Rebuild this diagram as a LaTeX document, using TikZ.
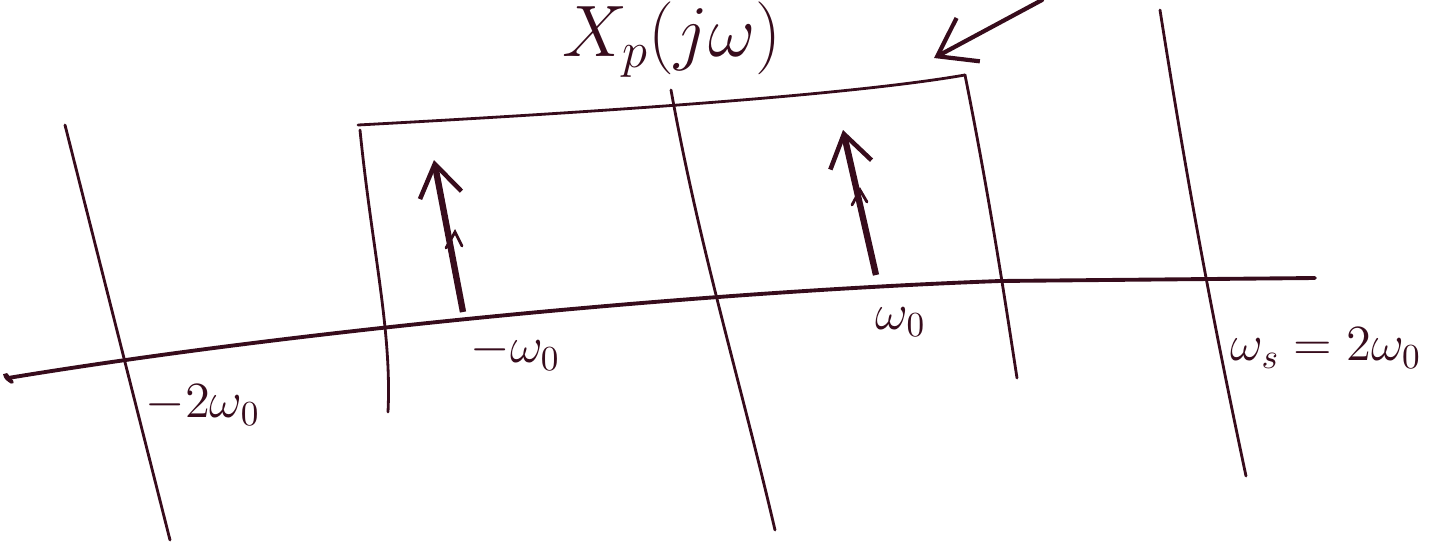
\documentclass[tikz,border=0pt]{standalone}
\usetikzlibrary{arrows.meta}
\definecolor{ink}{RGB}{55,12,28}
\begin{document}
\begin{tikzpicture}[x=0.01cm,y=-0.01cm,
  pen/.style={draw=ink,line width=1.1pt,line cap=round},
  thin pen/.style={draw=ink,line width=0.8pt,line cap=round},
  impulse/.style={draw=ink,line width=1.8pt,-{Straight Barb[length=9pt,width=12pt,line width=1.3pt]}},
  lbl/.style={text=ink,font=\Large,inner sep=0pt}]
\useasboundingbox (0,0) rectangle (1435,545);
% frequency axis
\coordinate (a0) at (8,378);
\coordinate (a1) at (1315,278);
\draw[pen] (12,382) .. controls (2,376) and (6,372) .. (a0)
  .. controls (300,330) and (700,292) .. (1000,281) -- (a1);
% vertical lines
\coordinate (v1t) at (65,125);  \coordinate (v1b) at (170,540);
\coordinate (v2t) at (360,130); \coordinate (v2b) at (388,412);
\coordinate (v3t) at (671,90);  \coordinate (v3b) at (775,530);
\coordinate (v4t) at (965,75);  \coordinate (v4b) at (1017,378);
\coordinate (v5t) at (1160,10); \coordinate (v5b) at (1246,476);
\draw[thin pen] (v1t) -- (v1b);
\draw[thin pen] (v2t) .. controls (372,250) and (392,330) .. (v2b);
\draw[thin pen] (v3t) .. controls (700,250) and (740,380) .. (v3b);
\draw[thin pen] (v4t) .. controls (990,200) and (1005,300) .. (v4b);
\draw[thin pen] (v5t) .. controls (1190,200) and (1215,330) .. (v5b);
% box top
\draw[thin pen] (358,125) .. controls (600,112) and (850,95) .. (v4t);
% impulses
\coordinate (i1b) at (463,312); \coordinate (i1t) at (434,160);
\coordinate (i2b) at (876,275); \coordinate (i2t) at (843,130);
\draw[impulse] (i1b) -- (i1t);
\draw[impulse] (i2b) -- (i2t);
\draw[thin pen] (446,248) -- (455,232) -- (462,246);
\draw[thin pen] (852,205) -- (860,190) -- (867,202);
% pointer arrow
\coordinate (pa) at (1042,0); \coordinate (pb) at (934,58);
\draw[thin pen,line width=1.2pt,-{Straight Barb[length=10pt,width=14pt]}] (pa) -- (pb);
% labels
\node[lbl,font=\fontsize{21}{25}\selectfont,anchor=north] (xp) at (672,1) {$X_p(j\omega)$};
\node[lbl,anchor=west] (l1) at (145,405) {$-2\omega_0$};
\node[lbl,anchor=west] (l2) at (470,352) {$-\omega_0$};
\node[lbl,anchor=west] (l3) at (875,322) {$\omega_0$};
\node[lbl,anchor=west] (l4) at (1230,348) {$\omega_s = 2\omega_0$};
\end{tikzpicture}
\end{document}
